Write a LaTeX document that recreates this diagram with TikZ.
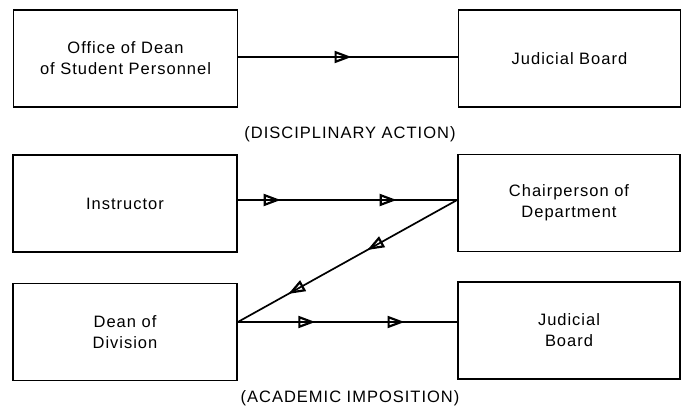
\documentclass[tikz,border=0pt]{standalone}
\usepackage{fontspec}
\setmainfont{Liberation Sans}[LetterSpace=6]
\usetikzlibrary{arrows.meta,decorations.markings}
\begin{document}
\begin{tikzpicture}[x=1pt,y=-1pt,
  box/.style={draw, line width=1.7pt, minimum height=97pt, inner sep=2pt, align=center, font=\fontsize{16.5}{21}\selectfont},
  lbox/.style={box, minimum width=224pt},
  rbox/.style={box, minimum width=222pt},
  flowtip/.tip={Triangle[open, length=17pt, width=12pt, line width=2.2pt]},
  captiontext/.style={font=\fontsize{16.5}{21}\selectfont},
  flowone/.style={line width=1.7pt, postaction={decorate}, decoration={markings, mark=at position #1 with {\arrow{flowtip}}}},
  flowtwo/.style 2 args={line width=1.7pt, postaction={decorate}, decoration={markings, mark=at position #1 with {\arrow{flowtip}}, mark=at position #2 with {\arrow{flowtip}}}}
]
\useasboundingbox (0,0) rectangle (685,411);
\node[lbox] (off) at (125.5,58.5) {Office of Dean\\of Student Personnel};
\node[rbox] (jb1) at (569.5,58.5) {Judicial Board};
\node[captiontext] (da) at (350,134) {(DISCIPLINARY ACTION)};
\node[lbox] (ins) at (125,203.5) {Instructor};
\node[rbox] (chair) at (569,203) {Chairperson of\\Department};
\node[lbox] (dean) at (125,332) {Dean of\\Division};
\node[rbox] (jb2) at (569,330.5) {Judicial\\Board};
\node[captiontext] (ai) at (350,398.5) {(ACADEMIC IMPOSITION)};
\draw[flowone=0.516] ([yshift=1.5pt]off.east) -- ([yshift=1.5pt]jb1.west);
\draw[flowtwo={0.195}{0.724}] ([yshift=3.5pt]ins.east) -- ([yshift=3pt]chair.west);
\draw[flowtwo={0.41}{0.77}] ([yshift=3pt]chair.west) -- ([yshift=10pt]dean.east);
\draw[flowtwo={0.353}{0.76}] ([yshift=10pt]dean.east) -- ([yshift=8.5pt]jb2.west);
\end{tikzpicture}
\end{document}
